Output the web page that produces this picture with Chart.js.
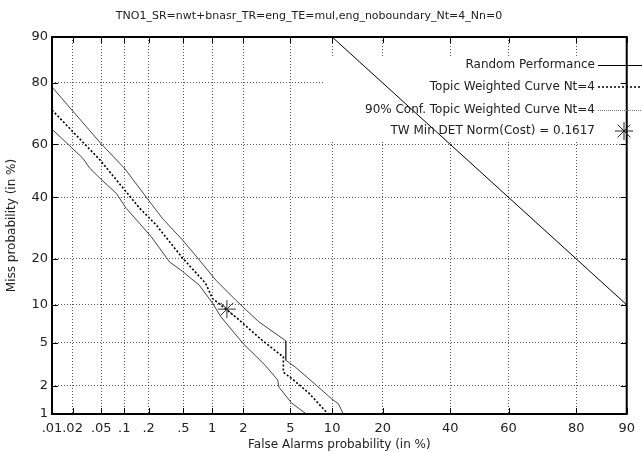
<!DOCTYPE html>
<html>
<head>
<meta charset="utf-8">
<script src="https://cdn.jsdelivr.net/npm/chart.js@4"></script>
<style>
  html, body { margin: 0; padding: 0; background: #fff; }
  #wrap { width: 642px; height: 452px; }
</style>
</head>
<body>
<div id="wrap"><canvas id="detChart" width="642" height="452"></canvas></div>
<script>
// tick positions (in %) and their labels
const faTicks = [0.01, 0.02, 0.05, 0.1, 0.2, 0.5, 1, 2, 5, 10, 20, 40, 60, 80, 90];
const faTickLabels = [".01", ".02", ".05", ".1", ".2", ".5", "1", "2", "5", "10", "20", "40", "60", "80", "90"];
const missTicks = [1, 2, 5, 10, 20, 40, 60, 80, 90];
const missTickLabels = ["1", "2", "5", "10", "20", "40", "60", "80", "90"];

// random performance line
const randomFa = [10, 90];
const randomMiss = [90, 10];

// topic weighted curve (false alarm %, miss %)
const twFa = [0.01, 0.048, 0.155, 0.245, 0.49, 0.86, 1.01, 1.76, 2.9, 4.4, 4.4, 5.1, 6.9, 9.4];
const twMiss = [72.0, 54.2, 36.1, 30.3, 20.2, 14.1, 11.1, 7.9, 5.3, 3.75, 2.7, 2.36, 1.67, 1.0];

// 90% confidence bounds
const upperFa = [0.01, 0.050, 0.10, 0.187, 0.29, 0.49, 0.74, 1.09, 1.70, 2.74, 4.6, 4.6, 5.5, 8.5, 9.9, 11.0, 11.8];
const upperMiss = [78.9, 60.2, 51.1, 40.1, 32.5, 25.4, 19.7, 14.8, 10.8, 7.45, 5.2, 3.5, 3.0, 1.8, 1.46, 1.29, 1.0];
const lowerFa = [0.01, 0.028, 0.035, 0.048, 0.079, 0.106, 0.155, 0.214, 0.35, 0.49, 0.74, 1.01, 1.22, 2.0, 3.15, 3.96, 4.05, 5.1, 6.6];
const lowerMiss = [65.5, 54.8, 51.0, 47.2, 41.5, 36.0, 30.8, 26.5, 19.2, 16.8, 13.7, 10.3, 8.15, 4.9, 3.1, 2.27, 1.93, 1.32, 1.0];

// min DET cost point
const minFa = [1.40];
const minMiss = [9.3];

const titleText = "TNO1_SR=nwt+bnasr_TR=eng_TE=mul,eng_noboundary_Nt=4_Nn=0";
const legendLabels = ["Random Performance", "Topic Weighted Curve Nt=4", "90% Conf. Topic Weighted Curve Nt=4", "TW Min DET Norm(Cost) = 0.1617"];

// inverse normal CDF (Acklam) -> DET axis warping
function probit(p) {
    const a = [-3.969683028665376e+01, 2.209460984245205e+02, -2.759285104469687e+02, 1.383577518672690e+02, -3.066479806614716e+01, 2.506628277459239e+00];
    const b = [-5.447609879822406e+01, 1.615858368580409e+02, -1.556989798598866e+02, 6.680131188771972e+01, -1.328068155288572e+01];
    const c = [-7.784894002430293e-03, -3.223964580411365e-01, -2.400758277161838e+00, -2.549732539343734e+00, 4.374664141464968e+00, 2.938163982698783e+00];
    const d = [7.784695709041462e-03, 3.224671290700398e-01, 2.445134137142996e+00, 3.754408361176385e+00];
    const pl = 0.02425;
    let q, r;
    if (p < pl) {
        q = Math.sqrt(-2 * Math.log(p));
        return (((((c[0]*q+c[1])*q+c[2])*q+c[3])*q+c[4])*q+c[5]) / ((((d[0]*q+d[1])*q+d[2])*q+d[3])*q+1);
    }
    if (p <= 1 - pl) {
        q = p - 0.5; r = q * q;
        return (((((a[0]*r+a[1])*r+a[2])*r+a[3])*r+a[4])*r+a[5])*q / (((((b[0]*r+b[1])*r+b[2])*r+b[3])*r+b[4])*r+1);
    }
    q = Math.sqrt(-2 * Math.log(1 - p));
    return -(((((c[0]*q+c[1])*q+c[2])*q+c[3])*q+c[4])*q+c[5]) / ((((d[0]*q+d[1])*q+d[2])*q+d[3])*q+1);
}

const toPoints = (fa, miss) => fa.map((v, i) => ({ x: probit(v / 100), y: probit(miss[i] / 100) }));

const FONT = "'DejaVu Sans', sans-serif";

const detDecor = {
    id: "detDecor",
    beforeDatasetsDraw(chart) {
        const { ctx, chartArea: ca, scales } = chart;
        ctx.save();
        // key box hides the grid behind it
        ctx.fillStyle = "#fff";
        ctx.fillRect(325, ca.top + 19, ca.right - 326, 140 - (ca.top + 19));
        // inward tick marks on all four sides
        ctx.strokeStyle = "#000";
        ctx.lineWidth = 1;
        ctx.beginPath();
        scales.x.ticks.forEach(t => {
            const px = Math.round(scales.x.getPixelForValue(t.value)) + 0.5;
            ctx.moveTo(px, ca.bottom); ctx.lineTo(px, ca.bottom - 6);
            ctx.moveTo(px, ca.top); ctx.lineTo(px, ca.top + 6);
        });
        scales.y.ticks.forEach(t => {
            const py = Math.round(scales.y.getPixelForValue(t.value)) + 0.5;
            ctx.moveTo(ca.left, py); ctx.lineTo(ca.left + 6, py);
            ctx.moveTo(ca.right, py); ctx.lineTo(ca.right - 6, py);
        });
        ctx.stroke();
        ctx.restore();
    },
    afterDatasetsDraw(chart) {
        const { ctx, chartArea: ca } = chart;
        ctx.save();
        ctx.strokeStyle = "#000";
        ctx.lineWidth = 2;
        ctx.strokeRect(ca.left, ca.top, ca.right - ca.left, ca.bottom - ca.top);

        // title
        ctx.fillStyle = "#222";
        ctx.font = "11px " + FONT;
        ctx.textAlign = "center";
        ctx.textBaseline = "middle";
        ctx.fillText(titleText, 309, 16);

        // key
        ctx.font = "12px " + FONT;
        ctx.textAlign = "right";
        const keyX = 595;
        const keyY = [65, 87, 110, 131];
        legendLabels.forEach((lab, i) => ctx.fillText(lab, keyX, keyY[i]));

        ctx.lineWidth = 1;
        ctx.strokeStyle = "#000";
        ctx.beginPath();
        ctx.moveTo(keyX + 3, keyY[0] + 0.5); ctx.lineTo(642, keyY[0] + 0.5);
        ctx.stroke();

        ctx.setLineDash([2, 2]);
        ctx.lineWidth = 1.5;
        ctx.beginPath();
        ctx.moveTo(keyX + 3, keyY[1]); ctx.lineTo(642, keyY[1]);
        ctx.stroke();

        ctx.setLineDash([1, 1]);
        ctx.lineWidth = 1;
        ctx.strokeStyle = "#777";
        ctx.beginPath();
        ctx.moveTo(keyX + 3, keyY[2] + 0.5); ctx.lineTo(642, keyY[2] + 0.5);
        ctx.stroke();
        ctx.setLineDash([]);

        // star marker in key
        const sx = 624, sy = keyY[3], r = 9;
        ctx.strokeStyle = "#222";
        ctx.beginPath();
        ctx.moveTo(sx - r, sy); ctx.lineTo(sx + r, sy);
        ctx.moveTo(sx, sy - r); ctx.lineTo(sx, sy + r);
        const k = r * 0.7071;
        ctx.moveTo(sx - k, sy - k); ctx.lineTo(sx + k, sy + k);
        ctx.moveTo(sx - k, sy + k); ctx.lineTo(sx + k, sy - k);
        ctx.stroke();
        ctx.restore();
    }
};

const ctx = document.getElementById("detChart").getContext("2d");

const detChart = new Chart(ctx, {
    type: "scatter",
    data: {
        datasets: [
            {
                label: legendLabels[0],
                data: toPoints(randomFa, randomMiss),
                showLine: true,
                borderColor: "#000",
                borderWidth: 1,
                pointRadius: 0
            },
            {
                label: legendLabels[1],
                data: toPoints(twFa, twMiss),
                showLine: true,
                borderColor: "#000",
                borderWidth: 1.6,
                borderDash: [2, 2],
                pointRadius: 0
            },
            {
                label: legendLabels[2],
                data: toPoints(upperFa, upperMiss),
                showLine: true,
                borderColor: "#444",
                borderWidth: 1,
                pointRadius: 0
            },
            {
                label: legendLabels[2] + " low",
                data: toPoints(lowerFa, lowerMiss),
                showLine: true,
                borderColor: "#444",
                borderWidth: 1,
                pointRadius: 0
            },
            {
                label: legendLabels[3],
                data: toPoints(minFa, minMiss),
                pointStyle: "star",
                pointRadius: 9,
                borderColor: "#333",
                borderWidth: 1
            }
        ]
    },
    options: {
        responsive: false,
        animation: false,
        layout: { padding: { top: 37, right: 12, left: 0, bottom: 0 } },
        plugins: {
            legend: { display: false },
            title: { display: false },
            tooltip: { enabled: false }
        },
        scales: {
            x: {
                type: "linear",
                min: probit(faTicks[0] / 100),
                max: probit(faTicks[faTicks.length - 1] / 100),
                afterBuildTicks: s => { s.ticks = faTicks.map(v => ({ value: probit(v / 100) })); },
                afterFit: s => { s.height = 38; },
                grid: { color: "rgba(0,0,0,0.65)", lineWidth: 1, drawTicks: false },
                border: { display: false, dash: [1, 2] },
                ticks: {
                    autoSkip: false,
                    maxRotation: 0,
                    padding: 7,
                    color: "#222",
                    font: { family: FONT, size: 13 },
                    callback: (v, i) => faTickLabels[i]
                },
                title: {
                    display: true,
                    text: "False Alarms probability (in %)",
                    color: "#222",
                    font: { family: FONT, size: 12 },
                    padding: { top: 0, bottom: 0 }
                }
            },
            y: {
                type: "linear",
                min: probit(missTicks[0] / 100),
                max: probit(missTicks[missTicks.length - 1] / 100),
                afterBuildTicks: s => { s.ticks = missTicks.map(v => ({ value: probit(v / 100) })); },
                afterFit: s => { s.width = 52; },
                grid: { color: "rgba(0,0,0,0.65)", lineWidth: 1, drawTicks: false },
                border: { display: false, dash: [1, 2] },
                ticks: {
                    autoSkip: false,
                    padding: 4,
                    color: "#222",
                    font: { family: FONT, size: 13 },
                    callback: (v, i) => missTickLabels[i]
                },
                title: {
                    display: true,
                    text: "Miss probability (in %)",
                    color: "#222",
                    font: { family: FONT, size: 12 },
                    padding: { top: 5, bottom: 0 }
                }
            }
        }
    },
    plugins: [detDecor]
});
</script>
</body>
</html>
